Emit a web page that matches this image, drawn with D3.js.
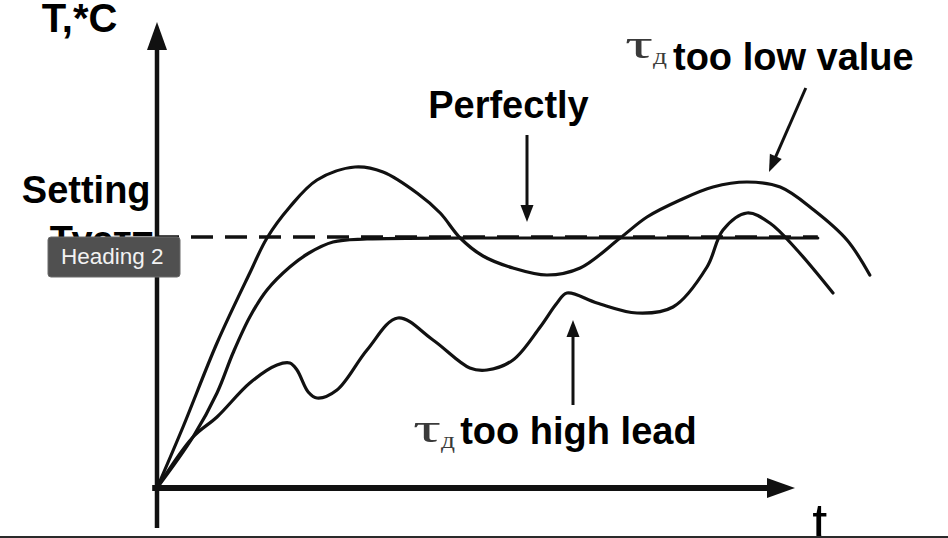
<!DOCTYPE html>
<html>
<head>
<meta charset="utf-8">
<script src="https://cdn.jsdelivr.net/npm/d3@7"></script>
<style>
html, body { margin: 0; padding: 0; background: #fff; overflow: hidden; }
</style>
</head>
<body>
<script>
// time axis in arbitrary units, temperature in % of the frame (setpoint = 50)
const setpoint = 50
const setpointEnd = 82.6

// tau_d too low: overshoot and oscillation
const tLow = [0, 3.25, 7.5, 11.6, 13.75, 16.6, 20, 24.75, 28.25, 32.5, 35.4, 37.9, 40.75, 44.5, 48.75, 52.9, 57.9, 61.25, 65.4, 69.5, 73.75, 77.9, 82.1, 86.25, 89.1]
const vLow = [0, 12.2, 29, 43, 50, 56.2, 61.6, 64.2, 63.2, 59, 55, 50, 46.4, 44, 42.6, 44, 50, 54.2, 57.6, 60.2, 61.2, 60.2, 55.6, 49.6, 42.6]

// perfect tuning: smooth rise, then flat on the setpoint
const tPerfect = [0, 4.5, 7.5, 9.5, 11.6, 13.75, 16.6, 19, 22, 26.25, 40, 60, 82.6]
const vPerfect = [0, 10.2, 19, 27, 34.2, 39.6, 44.2, 47, 49.2, 49.8, 50, 50, 50]

// tau_d too high: slow, wavy approach
const tHigh = [0, 4.5, 7.5, 11.6, 15, 16.6, 17.5, 18.9, 20, 22.5, 26.25, 30.1, 34.5, 39.1, 41.25, 44.5, 47.9, 50, 51.25, 55, 60, 64.5, 68.75, 70.75, 73.75, 76.6, 80, 84.5]
const vHigh = [0, 10.2, 14.2, 21, 24.6, 25, 23.6, 19.2, 18, 19.6, 27.6, 34, 29.6, 24, 23.6, 25.6, 32.2, 37, 39, 37, 35, 36.2, 44.2, 51.6, 55, 53, 47.6, 39]

const labels = ["T,*C", "Setting", "Туст=", "Perfectly", "too low value", "too high lead", "t"]
const tau = ["τ", "д"]

const width = 948
const height = 538
const x = d3.scaleLinear([0, 100], [157, 957])
const y = d3.scaleLinear([0, 100], [488, -12])

const svg = d3.create("svg")
	.attr("width", width)
	.attr("height", height)
	.attr("viewBox", [0, 0, width, height])

const bold = "'Liberation Sans', Arial, Helvetica, sans-serif"
const serif = "'Liberation Serif', 'DejaVu Serif', serif"

// straight line with a filled triangle head at (x2, y2)
function arrow(g, [t1, v1], [t2, v2], {len, wid, sw}) {
	const x1 = x(t1), y1 = y(v1), x2 = x(t2), y2 = y(v2)
	const d = Math.hypot(x2 - x1, y2 - y1)
	const ux = (x2 - x1) / d, uy = (y2 - y1) / d
	const bx = x2 - ux * len, by = y2 - uy * len
	g.append("line")
		.attr("x1", x1).attr("y1", y1)
		.attr("x2", bx + ux * 1).attr("y2", by + uy * 1)
		.attr("stroke", "#111")
		.attr("stroke-width", sw)
	g.append("path")
		.attr("d", `M${x2},${y2}L${bx - uy * wid / 2},${by + ux * wid / 2}L${bx + uy * wid / 2},${by - ux * wid / 2}Z`)
		.attr("fill", "#111")
}

const line = d3.line()
	.x(d => x(d[0]))
	.y(d => y(d[1]))
	.curve(d3.curveCatmullRom.alpha(0.5))

// setpoint (dashed)
svg.append("line")
	.attr("x1", x(0)).attr("x2", x(setpointEnd))
	.attr("y1", y(setpoint) - 1).attr("y2", y(setpoint) - 1)
	.attr("stroke", "#111")
	.attr("stroke-width", 3.5)
	.attr("stroke-dasharray", "22,12")

// responses
svg.append("g")
	.attr("fill", "none")
	.attr("stroke", "#111")
	.attr("stroke-width", 3.2)
	.attr("stroke-linejoin", "round")
	.attr("stroke-linecap", "round")
	.selectAll("path")
	.data([d3.zip(tLow, vLow), d3.zip(tPerfect, vPerfect), d3.zip(tHigh, vHigh)])
	.join("path")
	.attr("d", line)

// axes
const axes = svg.append("g")
arrow(axes, [0, -8], [0, 93.2], {len: 28, wid: 20, sw: 4.5})
arrow(axes, [-0.6, 0], [79.75, 0], {len: 28, wid: 20, sw: 6})

// pointers
const notes = svg.append("g")
arrow(notes, [46.25, 70.6], [46.25, 53.2], {len: 17, wid: 13, sw: 3})
arrow(notes, [81.1, 80], [76.5, 63.2], {len: 17, wid: 13, sw: 3})
arrow(notes, [52, 16.6], [52, 33.6], {len: 17, wid: 13, sw: 3})

// texts
const text = (s, t, v, size, opts = {}) => svg.append("text")
	.attr("x", x(t)).attr("y", y(v))
	.attr("font-family", opts.family || bold)
	.attr("font-weight", opts.weight || "bold")
	.attr("font-size", size)
	.attr("fill", opts.fill || "#000")
	.text(s)

text(labels[0], -14.4, 91.2, 40)
text(labels[1], -16.9, 57, 38)
text(labels[2], -13.4, 47, 38)
text(labels[3], 33.9, 74, 38)
text(labels[4], 64.5, 83.6, 38)
text(labels[5], 37.9, 8.8, 38)
text(labels[6], 81.9, -10.6, 54, {weight: "normal"})

// tau_d symbols, greyish serif
for (const [t, v] of [[58.5, 86], [32, 9.2]]) {
	text(tau[0], t, v, 40, {family: serif, weight: "normal", fill: "#3a3a3a"})
		.attr("textLength", 28).attr("lengthAdjust", "spacingAndGlyphs")
	text(tau[1], t + 3.5, v - 1.2, 24, {family: serif, weight: "normal", fill: "#3a3a3a"})
		.attr("textLength", 14).attr("lengthAdjust", "spacingAndGlyphs")
}

// editor tooltip over the setpoint label
const tip = svg.append("g")
tip.append("rect")
	.attr("x", 48).attr("y", 237)
	.attr("width", 132).attr("height", 40)
	.attr("rx", 3)
	.attr("fill", "#505050")
	.attr("stroke", "#6a6a6a")
	.attr("stroke-width", 1)
tip.append("text")
	.attr("x", 61).attr("y", 264)
	.attr("font-family", bold)
	.attr("font-size", 22.5)
	.attr("fill", "#f2f2f2")
	.text("Heading 2")

// window edge at the bottom
svg.append("rect")
	.attr("x", 0).attr("y", 536)
	.attr("width", width).attr("height", 2)
	.attr("fill", "#2a2a2a")

document.body.append(svg.node())
</script>
</body>
</html>
